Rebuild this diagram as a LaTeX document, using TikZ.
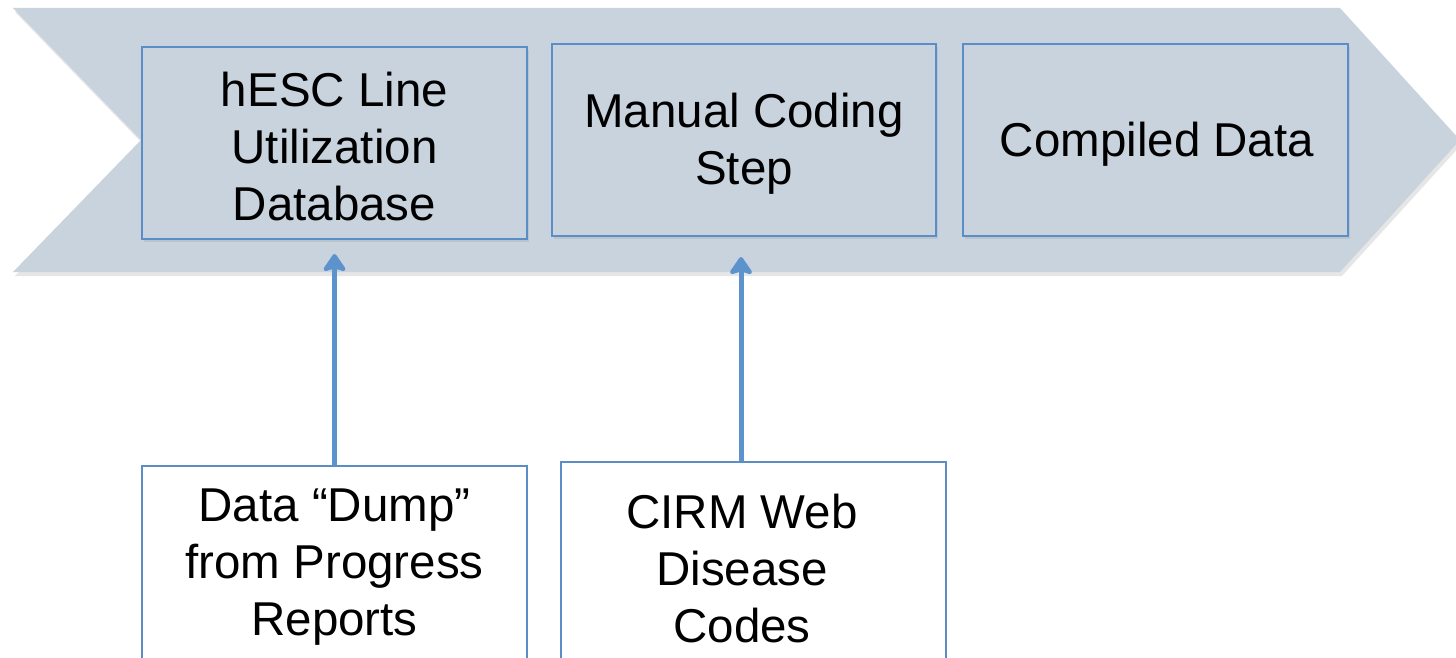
\documentclass[tikz,border=0pt]{standalone}
\usepackage{fontspec}
\setmainfont{Liberation Sans}
\usetikzlibrary{arrows.meta,shadows,calc}
\definecolor{chev}{HTML}{C8D3DE}
\definecolor{boxline}{HTML}{5B8DC9}
\definecolor{arrcol}{HTML}{5D93CC}
\tikzset{
  txt/.style={font=\fontsize{47.5}{57}\selectfont, align=center, inner sep=0pt},
  topbox/.style={draw=boxline, line width=2pt, fill=chev, inner sep=0pt,
    drop shadow={opacity=0.18, shadow xshift=2pt, shadow yshift=-3pt}},
  botbox/.style={draw=boxline, line width=1.6pt, fill=white, inner sep=0pt},
  arr/.style={draw=arrcol, line width=5pt,
    -{Stealth[length=20pt,width=27pt,inset=4pt,round]}},
}
\begin{document}
\begin{tikzpicture}[x=1pt,y=-1pt]
\useasboundingbox (0,0) rectangle (1456,658);
% chevron
\path[fill=chev, drop shadow={opacity=0.2, shadow xshift=2pt, shadow yshift=-4pt}]
  (13,8) -- (1340,8) -- (1460,140) -- (1340,272) -- (13,272) -- (141,140) -- cycle;
% top boxes
\node[topbox, minimum width=385pt, minimum height=192pt] (b1) at (334.5,143) {};
\node[txt] (t1) at (334.5,147) {hESC Line\\Utilization\\Database};
\node[topbox, minimum width=384pt, minimum height=192pt] (b2) at (744,140) {};
\node[txt] (t2) at (744,144) {Manual Coding\\Step};
\node[topbox, minimum width=385pt, minimum height=192pt] (b3) at (1155.5,140) {};
\node[txt] (t3) at (1157,144) {Compiled Data};
% bottom boxes
\node[botbox, minimum width=385pt, minimum height=200pt] (d4) at (334.5,566) {};
\node[txt] (t4) at (334.5,567) {Data “Dump”\\from Progress\\Reports};
\node[botbox, minimum width=385pt, minimum height=204pt] (d5) at (753.5,564) {};
\node[txt] (t5) at (742,569) {CIRM Web\\Disease\\Codes};
% arrows
\draw[arr, shorten >=14pt] (d4.north) -- (b1.south);
\draw[arr, shorten >=20pt] ([xshift=-3pt]b2.south |- d5.north) -- ([xshift=-3pt]b2.south);
\end{tikzpicture}
\end{document}
